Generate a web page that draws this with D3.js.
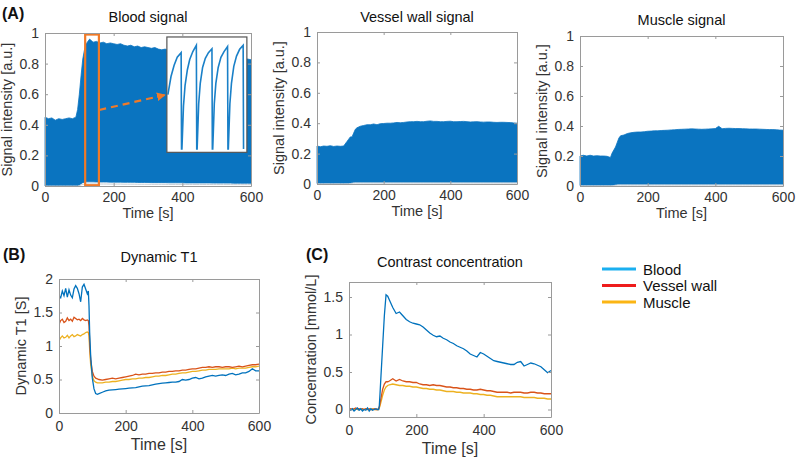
<!DOCTYPE html>
<html>
<head>
<meta charset="utf-8">
<script src="https://cdn.jsdelivr.net/npm/d3@7"></script>
<style>
  body { margin: 0; background: #fff; }
  svg { font-family: "Liberation Sans", Arial, sans-serif; }
  .tick text { fill: #333; font-size: 14px; }
</style>
</head>
<body>
<svg id="chart" width="800" height="457"></svg>
<script>
// ---- data ----
var tSig = [0,10,20,30,40,50,60,70,80,90,95,100,105,110,115,120,
  130,140,150,160,170,180,190,200,210,220,230,240,250,260,270,280,290,300,
  310,320,330,340,350,360,370,380,390,400,410,420,430,440,450,460,470,480,
  490,500,510,520,530,540,550,560,570,580,590,600];

var bloodTop = [0.45,0.44,0.445,0.43,0.44,0.435,0.44,0.445,0.44,0.45,0.5,0.6,0.72,0.83,0.89,0.93,
  0.96,0.94,0.945,0.935,0.94,0.93,0.935,0.93,0.925,0.93,0.92,0.915,0.92,0.91,0.915,0.905,0.91,0.905,
  0.9,0.905,0.895,0.89,0.895,0.885,0.88,0.885,0.875,0.87,0.87,0.865,0.865,0.86,0.86,0.855,0.855,0.85,
  0.85,0.845,0.845,0.84,0.84,0.84,0.835,0.835,0.83,0.83,0.83,0.825];
var bloodLow = [0,0,0,0,0,0,0,0,0,0,0,0.005,0.015,0.022,0.025,0.027,
  0.027,0.027,0.026,0.026,0.026,0.026,0.025,0.025,0.025,0.025,0.024,0.024,0.024,0.024,0.023,0.023,0.023,0.023,
  0.022,0.022,0.022,0.022,0.022,0.021,0.021,0.021,0.021,0.021,0.02,0.02,0.02,0.02,0.02,0.02,0.02,0.02,
  0.019,0.019,0.019,0.019,0.019,0.019,0.018,0.018,0.018,0.018,0.018,0.018];

var vesselTop = [0.25,0.245,0.25,0.248,0.252,0.247,0.25,0.248,0.25,0.28,0.295,0.31,0.31,0.335,0.36,0.37,
  0.38,0.385,0.39,0.39,0.395,0.39,0.397,0.398,0.4,0.4,0.402,0.405,0.403,0.405,0.408,0.41,0.41,0.412,
  0.41,0.41,0.413,0.415,0.412,0.412,0.41,0.41,0.412,0.413,0.41,0.41,0.411,0.412,0.41,0.408,0.409,0.41,
  0.408,0.407,0.408,0.408,0.406,0.405,0.406,0.406,0.405,0.404,0.402,0.4];
var vesselLow = [0.003,0.003,0.003,0.003,0.003,0.003,0.003,0.003,0.003,0.003,0.004,0.006,0.009,0.011,0.012,0.012,
  0.012,0.012,0.012,0.012,0.012,0.012,0.012,0.012,0.012,0.012,0.012,0.012,0.012,0.012,0.012,0.012,0.012,0.012,
  0.012,0.012,0.012,0.012,0.012,0.012,0.012,0.012,0.012,0.012,0.012,0.012,0.012,0.012,0.012,0.012,0.012,0.012,
  0.012,0.012,0.012,0.012,0.012,0.012,0.012,0.012,0.012,0.012,0.012,0.012];

var muscleTop = [0.2,0.205,0.2,0.205,0.2,0.202,0.2,0.2,0.198,0.19,0.22,0.24,0.26,0.29,0.32,0.335,
  0.34,0.35,0.355,0.358,0.36,0.36,0.362,0.365,0.366,0.368,0.368,0.37,0.371,0.372,0.374,0.375,0.377,0.378,
  0.379,0.38,0.381,0.38,0.379,0.378,0.379,0.38,0.381,0.383,0.398,0.382,0.384,0.385,0.384,0.383,0.383,0.382,
  0.381,0.38,0.38,0.38,0.379,0.378,0.377,0.376,0.376,0.375,0.373,0.372];
var muscleLow = vesselLow;

// inset: one zoomed stretch of the blood signal (fraction of inset width, fraction of height)
var insetX = [0,0.04,0.08,0.12,0.17,0.175,0.18,0.2,0.22,0.25,0.28,0.32,0.365,0.37,
  0.375,0.395,0.415,0.445,0.48,0.52,0.565,0.57,0.575,0.595,0.615,0.645,0.68,0.72,0.765,0.77,
  0.775,0.795,0.815,0.845,0.88,0.92,0.965,0.97];
var insetY = [0.5,0.66,0.76,0.83,0.87,0.02,0.02,0.4,0.58,0.72,0.81,0.88,0.935,0.02,
  0.02,0.42,0.6,0.74,0.82,0.87,0.905,0.02,0.02,0.42,0.6,0.74,0.83,0.88,0.925,0.02,
  0.02,0.42,0.6,0.75,0.84,0.9,0.935,0.02];

var tCurve = [0,5,10,15,20,25,30,35,40,45,50,55,60,65,70,75,80,85,88,90,92,95,100,105,110,115,120,
  130,140,150,160,170,180,190,200,210,220,230,240,250,260,270,280,290,300,310,320,330,340,350,
  360,370,380,390,400,410,420,430,440,450,460,470,480,490,500,510,520,530,540,550,560,570,580,590,600];

var t1Blood = [1.74,1.72,1.82,1.75,1.86,1.73,1.84,1.76,1.72,1.85,1.9,1.86,1.78,1.66,1.88,1.92,1.85,1.78,1.82,1.6,1.2,0.85,0.52,0.36,0.29,0.28,0.29,
  0.31,0.33,0.34,0.345,0.35,0.355,0.36,0.365,0.37,0.375,0.38,0.39,0.4,0.405,0.41,0.42,0.43,0.44,0.445,0.45,0.455,0.46,0.46,
  0.47,0.5,0.49,0.5,0.52,0.53,0.51,0.52,0.54,0.55,0.56,0.55,0.56,0.57,0.56,0.58,0.59,0.57,0.58,0.6,0.6,0.62,0.66,0.63,0.63];
var t1Vessel = [1.32,1.38,1.4,1.35,1.37,1.42,1.38,1.4,1.37,1.43,1.41,1.39,1.4,1.38,1.41,1.39,1.38,1.39,1.38,1.3,1.05,0.8,0.62,0.55,0.52,0.51,0.5,
  0.49,0.5,0.51,0.52,0.51,0.52,0.53,0.54,0.55,0.56,0.58,0.57,0.58,0.58,0.59,0.59,0.6,0.6,0.61,0.61,0.62,0.62,0.63,
  0.63,0.64,0.64,0.65,0.66,0.66,0.67,0.68,0.68,0.69,0.68,0.69,0.69,0.68,0.69,0.69,0.68,0.69,0.7,0.69,0.7,0.71,0.72,0.72,0.73];
var t1Muscle = [1.08,1.12,1.15,1.12,1.13,1.16,1.12,1.15,1.17,1.14,1.15,1.17,1.16,1.15,1.17,1.18,1.2,1.21,1.2,1.15,0.95,0.72,0.55,0.48,0.46,0.45,0.45,
  0.45,0.46,0.46,0.47,0.47,0.48,0.49,0.5,0.5,0.51,0.51,0.52,0.52,0.53,0.53,0.54,0.55,0.55,0.56,0.56,0.57,0.58,0.58,
  0.59,0.6,0.6,0.61,0.62,0.62,0.63,0.64,0.64,0.65,0.65,0.65,0.66,0.66,0.66,0.66,0.67,0.66,0.67,0.67,0.67,0.68,0.69,0.69,0.7];

var concBlood = [0,-0.01,0.01,-0.02,0,0.02,-0.01,0.01,-0.02,0,-0.01,0.02,-0.02,0.01,-0.01,0,0.01,0,0,0.05,0.2,0.45,0.85,1.25,1.53,1.51,1.46,
  1.36,1.28,1.3,1.25,1.2,1.17,1.15,1.14,1.13,1.1,1.06,1.02,0.99,0.97,0.98,0.95,0.93,0.9,0.88,0.85,0.83,0.81,0.78,
  0.74,0.72,0.7,0.76,0.74,0.71,0.68,0.65,0.64,0.63,0.62,0.61,0.6,0.6,0.63,0.64,0.58,0.6,0.62,0.61,0.59,0.57,0.53,0.49,0.52];
var concVessel = [0,0.01,0,0.01,0.02,0.01,0.01,0,0.01,0,0.01,0,0.01,0,0,0.01,0,0,0.01,0.03,0.08,0.15,0.27,0.34,0.37,0.37,0.38,
  0.41,0.38,0.4,0.38,0.37,0.37,0.36,0.36,0.34,0.33,0.33,0.32,0.33,0.32,0.32,0.31,0.3,0.3,0.29,0.29,0.28,0.28,0.27,
  0.27,0.26,0.26,0.27,0.26,0.25,0.25,0.24,0.23,0.23,0.23,0.23,0.22,0.23,0.23,0.23,0.22,0.22,0.23,0.23,0.22,0.22,0.21,0.21,0.21];
var concMuscle = [0,0,0.01,0,0.01,0,0,0.01,0,0,0.01,0,0,0,0.01,0,0,0,0,0.02,0.05,0.1,0.19,0.26,0.3,0.32,0.33,
  0.34,0.33,0.32,0.32,0.31,0.31,0.3,0.3,0.29,0.28,0.28,0.27,0.27,0.26,0.26,0.25,0.24,0.24,0.24,0.23,0.23,0.22,0.22,
  0.22,0.21,0.21,0.2,0.2,0.19,0.19,0.18,0.17,0.17,0.17,0.17,0.17,0.17,0.17,0.17,0.16,0.16,0.16,0.16,0.15,0.15,0.15,0.14,0.14];

var timeTicks = [0, 200, 400, 600];
var sigTicks = [0, 0.2, 0.4, 0.6, 0.8, 1];
var t1Ticks = [0, 0.5, 1, 1.5, 2];
var concTicks = [0, 0.5, 1, 1.5];
var legendNames = ["Blood", "Vessel wall", "Muscle"];

// ---- drawing ----
var svg = d3.select("#chart");
var sigBlue = "#0a74c0";
var lineColors = ["#0072BD", "#D95319", "#EDB120"];
var legendColors = ["#1aaff0", "#ee1c1c", "#fbb514"];

// opt: xPad (tick label padding), timeDy / timeSize (x label), yLabelSize
function panel(box, yDomain, yTicks, title, yLabel, titleY, opt) {
  var x = d3.scaleLinear().domain([0, 600]).range([box.l, box.r]);
  var y = d3.scaleLinear().domain(yDomain).range([box.b, box.t]);
  var g = svg.append("g");

  var fmt = function (d) { return d3.format("")(d); };
  var tl = 3;
  var axes = [
    [d3.axisBottom(x).tickValues(timeTicks).tickFormat(fmt).tickSizeInner(-tl).tickSizeOuter(0).tickPadding(opt.xPad), "translate(0," + box.b + ")"],
    [d3.axisTop(x).tickValues(timeTicks).tickFormat("").tickSizeInner(-tl).tickSizeOuter(0), "translate(0," + box.t + ")"],
    [d3.axisLeft(y).tickValues(yTicks).tickFormat(fmt).tickSizeInner(-tl).tickSizeOuter(0).tickPadding(6), "translate(" + box.l + ",0)"],
    [d3.axisRight(y).tickValues(yTicks).tickFormat("").tickSizeInner(-tl).tickSizeOuter(0), "translate(" + box.r + ",0)"]
  ];
  var holder = { x: x, y: y, g: g };
  holder.drawAxes = function () {
    axes.forEach(function (a) {
      var ag = g.append("g").attr("transform", a[1]).call(a[0]);
      ag.select(".domain").attr("stroke", "#9a9a9a");
      ag.selectAll(".tick line").attr("stroke", "#9a9a9a");
    });
    g.append("text").attr("x", (box.l + box.r) / 2).attr("y", titleY)
      .attr("text-anchor", "middle").attr("font-size", 14.5).attr("fill", "#111").text(title);
    g.append("text").attr("x", (box.l + box.r) / 2).attr("y", box.b + opt.timeDy)
      .attr("text-anchor", "middle").attr("font-size", opt.timeSize).attr("fill", "#333").text("Time [s]");
    g.append("text")
      .attr("transform", "translate(" + (box.l - 33) + "," + ((box.t + box.b) / 2) + ") rotate(-90)")
      .attr("text-anchor", "middle").attr("font-size", opt.yLabelSize).attr("fill", "#333").text(yLabel);
  };
  return holder;
}

var optA = { xPad: 6, timeDy: 32, timeSize: 14.5, yLabelSize: 14.5 };
var optBC = { xPad: 8, timeDy: 37, timeSize: 16, yLabelSize: 14.5 };

function signalPanel(box, top, low, title, titleY) {
  var p = panel(box, [0, 1], sigTicks, title, "Signal intensity [a.u.]", titleY, optA);
  var rows = tSig.map(function (t, i) { return { t: t, hi: top[i], lo: low[i] }; });
  p.g.append("path").datum(rows)
    .attr("fill", sigBlue)
    .attr("stroke", sigBlue).attr("stroke-width", 0.8)
    .attr("d", d3.area().x(function (d) { return p.x(d.t); })
      .y0(function (d) { return p.y(d.lo); })
      .y1(function (d) { return p.y(d.hi); }));
  p.g.append("path").datum(rows)
    .attr("fill", "none").attr("stroke", "#c9cfd6").attr("stroke-width", 1)
    .attr("d", d3.line().x(function (d) { return p.x(d.t); })
      .y(function (d) { return p.y(d.lo / 2); }));
  return p;
}

// (A) signals
var pA1 = signalPanel({ l: 45, r: 251, t: 33, b: 186 }, bloodTop, bloodLow, "Blood signal", 22);
var pA2 = signalPanel({ l: 317, r: 517, t: 32, b: 184 }, vesselTop, vesselLow, "Vessel wall signal", 22);
var pA3 = signalPanel({ l: 580, r: 783, t: 36, b: 186 }, muscleTop, muscleLow, "Muscle signal", 25);

// zoom window + arrow + inset on blood signal
var gA = pA1.g;
gA.append("rect")
  .attr("x", pA1.x(117)).attr("y", pA1.y(0.99))
  .attr("width", pA1.x(157) - pA1.x(117)).attr("height", pA1.y(0.005) - pA1.y(0.99))
  .attr("fill", "none").attr("stroke", "#f07a28").attr("stroke-width", 2.2);

svg.append("defs").append("marker")
  .attr("id", "arrow").attr("viewBox", "0 0 10 10").attr("refX", 9).attr("refY", 5)
  .attr("markerWidth", 4).attr("markerHeight", 4).attr("orient", "auto")
  .append("path").attr("d", "M0,0L10,5L0,10z").attr("fill", "#f07a28");

var inset = { x0: pA1.x(355), x1: pA1.x(588), y0: pA1.y(0.974), y1: pA1.y(0.22) };
gA.append("line")
  .attr("x1", pA1.x(158)).attr("y1", pA1.y(0.497))
  .attr("x2", inset.x0 - 2).attr("y2", pA1.y(0.595))
  .attr("stroke", "#f07a28").attr("stroke-width", 2.2)
  .attr("stroke-dasharray", "7,5").attr("marker-end", "url(#arrow)");

gA.append("rect")
  .attr("x", inset.x0).attr("y", inset.y0)
  .attr("width", inset.x1 - inset.x0).attr("height", inset.y1 - inset.y0)
  .attr("fill", "#fff").attr("stroke", "#555").attr("stroke-width", 1.2);
var ix = d3.scaleLinear().domain([0, 1]).range([inset.x0 + 1, inset.x1 - 1]);
var iy = d3.scaleLinear().domain([0, 1]).range([inset.y1 - 1, inset.y0 + 1]);
gA.append("path").datum(d3.range(insetX.length))
  .attr("fill", "none").attr("stroke", "#1a80c8").attr("stroke-width", 1.6)
  .attr("d", d3.line().x(function (i) { return ix(insetX[i]); }).y(function (i) { return iy(insetY[i]); }));

pA1.drawAxes();
pA2.drawAxes();
pA3.drawAxes();

// (B) dynamic T1 and (C) concentration
function curvePanel(box, yDomain, yTicks, title, yLabel, titleY, series) {
  var p = panel(box, yDomain, yTicks, title, yLabel, titleY, optBC);
  var clipId = "clip" + Math.round(box.l);
  svg.append("clipPath").attr("id", clipId).append("rect")
    .attr("x", box.l).attr("y", box.t).attr("width", box.r - box.l).attr("height", box.b - box.t);
  var line = d3.line().x(function (d) { return p.x(d[0]); }).y(function (d) { return p.y(d[1]); });
  [2, 1, 0].forEach(function (k) {
    p.g.append("path")
      .datum(tCurve.map(function (t, i) { return [t, series[k][i]]; }))
      .attr("clip-path", "url(#" + clipId + ")")
      .attr("fill", "none").attr("stroke", lineColors[k]).attr("stroke-width", 1.3)
      .attr("d", line);
  });
  p.drawAxes();
  return p;
}

curvePanel({ l: 59, r: 259, t: 279, b: 413 }, [0, 2], t1Ticks, "Dynamic T1", "Dynamic T1 [S]", 262,
  [t1Blood, t1Vessel, t1Muscle]);
curvePanel({ l: 349, r: 551, t: 282, b: 417 }, [-0.1, 1.7], concTicks, "Contrast concentration", "Concentration [mmol/L]", 267,
  [concBlood, concVessel, concMuscle]);

// panel letters
[["(A)", 2, 19], ["(B)", 3, 260], ["(C)", 306, 260]].forEach(function (d) {
  svg.append("text").attr("x", d[1]).attr("y", d[2])
    .attr("font-size", 16).attr("font-weight", "bold").attr("fill", "#111").text(d[0]);
});

// legend
var legend = svg.append("g").attr("transform", "translate(602,269)");
legendNames.forEach(function (name, i) {
  legend.append("line").attr("x1", 0).attr("x2", 34).attr("y1", i * 16.5).attr("y2", i * 16.5)
    .attr("stroke", legendColors[i]).attr("stroke-width", 3);
  legend.append("text").attr("x", 41).attr("y", i * 16.5 + 5.5)
    .attr("font-size", 15).attr("fill", "#111").text(name);
});
</script>
</body>
</html>
